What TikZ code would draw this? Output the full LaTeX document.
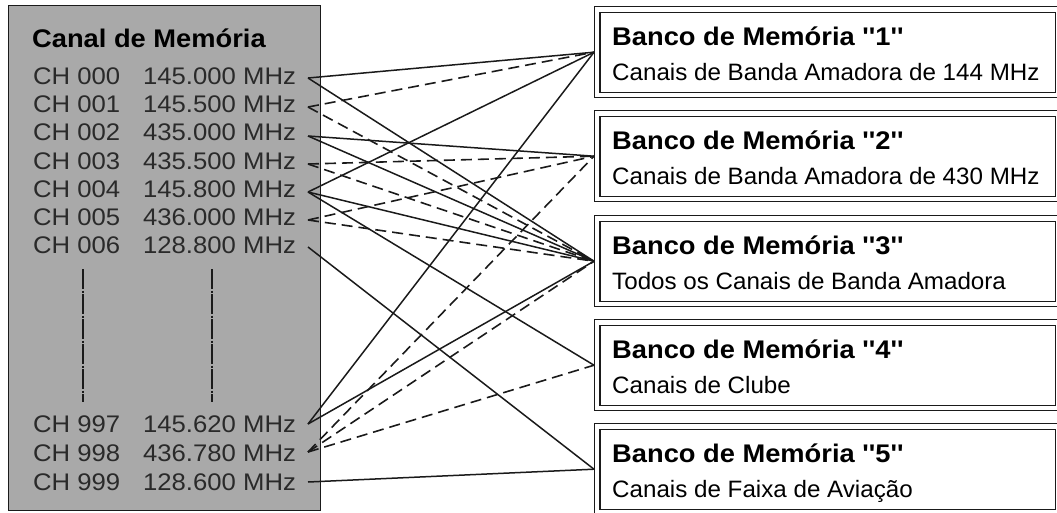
\documentclass[tikz,border=0pt]{standalone}
\usepackage{fontspec}
\usetikzlibrary{calc}
\setmainfont{Liberation Sans}
\newfontfamily\chfont[FakeStretch=1.07]{Liberation Sans}
\newfontfamily\subfont[FakeStretch=1.02]{Liberation Sans}
\definecolor{panelgray}{HTML}{A9A9A9}
\definecolor{ink}{HTML}{1A1A1A}
\definecolor{chink}{HTML}{2A2A2A}
\begin{document}
\begin{tikzpicture}[x=1pt,y=-1pt,
  panel/.style={draw=ink,line width=1.4pt,fill=panelgray,anchor=north west,inner sep=0,minimum width=312pt,minimum height=505pt},
  titletext/.style={anchor=base west,inner sep=0,font=\chfont\bfseries\fontsize{25.5}{30}\selectfont,text=black},
  chtext/.style={anchor=base west,inner sep=0,font=\chfont\fontsize{24}{28}\selectfont,text=chink},
  bankbox/.style={draw=ink,line width=1.4pt,fill=white,anchor=north west,inner sep=0,minimum width=466pt,minimum height=91pt},
  innerbox/.style={draw=ink,line width=1.4pt},
  banktitle/.style={anchor=base west,inner sep=0,font=\chfont\bfseries\fontsize{25.5}{30}\selectfont,text=black},
  banksub/.style={anchor=base west,inner sep=0,font=\subfont\fontsize{23.7}{28}\selectfont,text=black},
  link/.style={draw=ink,line width=1.5pt},
  dlink/.style={draw=ink,line width=1.6pt,dash pattern=on 11pt off 6pt},
  elision/.style={draw=ink,line width=2.3pt,dash pattern=on 20pt off 1.5pt on 2pt off 1.5pt}
]
\useasboundingbox (0,0) rectangle (1057,512);
\clip (0,0) rectangle (1057,512);

% left panel
\node[panel] (panel) at (8,5) {};
\node[titletext] (ptitle) at (32,47) {Canal de Memória};
\node[chtext] (t000) at (33,84)  {\makebox[110pt][l]{CH 000}145.000 MHz};
\node[chtext] (t001) at (33,112) {\makebox[110pt][l]{CH 001}145.500 MHz};
\node[chtext] (t002) at (33,140) {\makebox[110pt][l]{CH 002}435.000 MHz};
\node[chtext] (t003) at (33,169) {\makebox[110pt][l]{CH 003}435.500 MHz};
\node[chtext] (t004) at (33,197) {\makebox[110pt][l]{CH 004}145.800 MHz};
\node[chtext] (t005) at (33,225) {\makebox[110pt][l]{CH 005}436.000 MHz};
\node[chtext] (t006) at (33,253) {\makebox[110pt][l]{CH 006}128.800 MHz};
\node[chtext] (t997) at (33,432) {\makebox[110pt][l]{CH 997}145.620 MHz};
\node[chtext] (t998) at (33,461) {\makebox[110pt][l]{CH 998}436.780 MHz};
\node[chtext] (t999) at (33,490) {\makebox[110pt][l]{CH 999}128.600 MHz};

\coordinate (e1a) at (83,269);  \coordinate (e1b) at (83,402);
\coordinate (e2a) at (212,269); \coordinate (e2b) at (212,402);
\draw[elision] (e1a) -- (e1b);
\draw[elision] (e2a) -- (e2b);

% connector ends at channels
\coordinate (c000) at (308,78);
\coordinate (c001) at (308,107);
\coordinate (c002) at (308,136);
\coordinate (c003) at (308,164);
\coordinate (c004) at (308,192);
\coordinate (c005) at (308,220);
\coordinate (c006) at (308,247);
\coordinate (c997) at (308,424);
\coordinate (c998) at (308,452);
\coordinate (c999) at (308,482);

% banks
\foreach \i/\ytop/\ttl/\sub in {1/6/{Banco de Memória ''1''}/{Canais de Banda Amadora de 144 MHz},
                              2/110/{Banco de Memória ''2''}/{Canais de Banda Amadora de 430 MHz},
                              3/215/{Banco de Memória ''3''}/{Todos os Canais de Banda Amadora},
                              4/319/{Banco de Memória ''4''}/{Canais de Clube},
                              5/423/{Banco de Memória ''5''}/{Canais de Faixa de Aviação}}{
  \node[bankbox] (b\i) at (594,\ytop) {};
  \draw[innerbox] ($(b\i.north west)+(6,6.5)$) rectangle ($(b\i.south east)+(-6,-6)$);
  \node[banktitle] (bt\i) at (612,\ytop+39) {\ttl};
  \node[banksub] (bs\i) at (612,\ytop+74) {\sub};
}

% solid links
\draw[link] (c000) -- (b1.west);
\draw[link] (c000) -- (b3.west);
\draw[link] (c002) -- (b2.west);
\draw[link] (c002) -- (b3.west);
\draw[link] (c004) -- (b1.west);
\draw[link] (c004) -- (b3.west);
\draw[link] (c004) -- (b4.west);
\draw[link] (c006) -- (b5.west);
\draw[link] (c997) -- (b1.west);
\draw[link] (c997) -- (b3.west);
\draw[link] (c999) -- (b5.west);
% dashed links
\draw[dlink] (c001) -- (b1.west);
\draw[dlink] (c001) -- (b3.west);
\draw[dlink] (c003) -- (b2.west);
\draw[dlink] (c003) -- (b3.west);
\draw[dlink] (c005) -- (b2.west);
\draw[dlink] (c005) -- (b3.west);
\draw[dlink] (c998) -- (b2.west);
\draw[dlink] (c998) -- (b3.west);
\draw[dlink] (c998) -- (b4.west);
\end{tikzpicture}
\end{document}
